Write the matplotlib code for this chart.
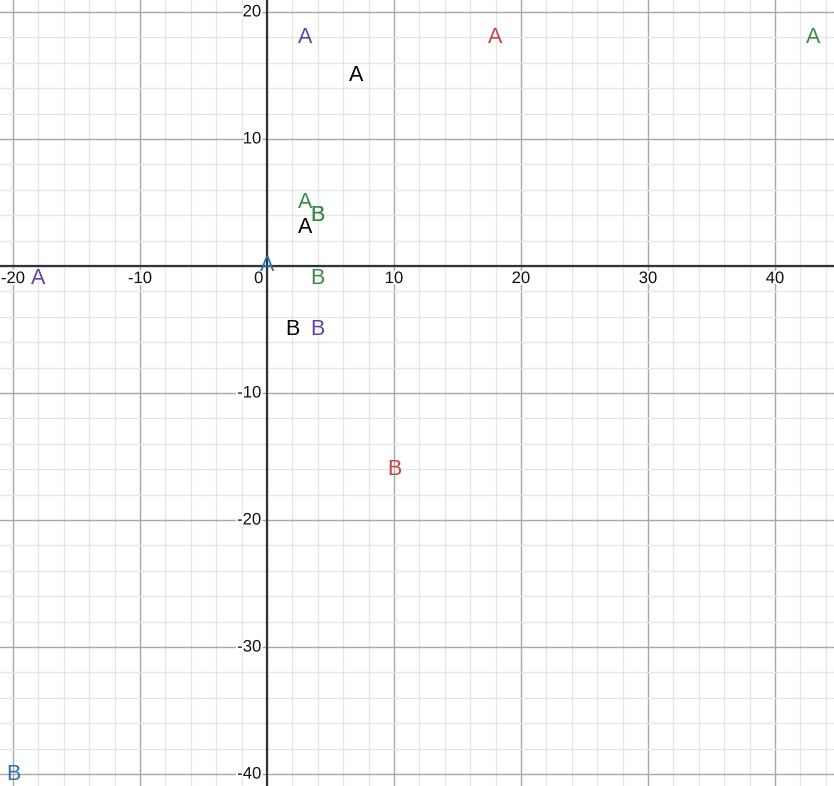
import matplotlib.pyplot as plt
import matplotlib.patheffects as pe
import numpy as np

# Point labels
labels = ["A", "A", "A", "A", "A", "A", "A", "A",
          "B", "B", "B", "B", "B", "B", "B"]
xs = [3, 18, 43, 7, 3, 3, 0, -18,
      4, 4, 2, 4, 10, -20, 4]
ys = [18, 18, 18, 15, 5, 3, 0, -1,
      4, -1, -5, -5, -16, -40, 4]
colors = ["purple", "red", "green", "black", "green", "black", "blue", "purple",
          "green", "green", "black", "purple", "red", "blue", "green"]

palette = {"red": "#c74440", "blue": "#2d70b3", "green": "#388c46",
           "purple": "#6042a6", "black": "#000000"}

x_ticks = [-20, -10, 0, 10, 20, 30, 40]
y_ticks = [20, 10, -10, -20, -30, -40]

fig = plt.figure(figsize=(8.34, 7.86), dpi=100)
ax = fig.add_axes([0, 0, 1, 1])
ax.set_xlim(-21.02, 44.65)
ax.set_ylim(-40.94, 20.94)
ax.axis("off")

# grid
for v in np.arange(-22, 46, 2):
    ax.axvline(v, color="#e6e6e6" if v % 10 else "#a8a8a8", lw=1, zorder=0)
for v in np.arange(-42, 22, 2):
    ax.axhline(v, color="#e6e6e6" if v % 10 else "#a8a8a8", lw=1, zorder=0)
ax.axhline(0, color="#333333", lw=1.6, zorder=1)
ax.axvline(0, color="#333333", lw=1.6, zorder=1)

halo = [pe.withStroke(linewidth=3, foreground="white")]
for t in x_ticks:
    xx = -0.65 if t == 0 else t
    ax.text(xx, -0.4, str(t), ha="center", va="top", fontsize=12,
            family="Liberation Sans", color="#111111", path_effects=halo, zorder=2)
for t in y_ticks:
    ax.text(-0.45, t, str(t), ha="right", va="center", fontsize=12,
            family="Liberation Sans", color="#111111", path_effects=halo, zorder=2)

for lab, x, y, c in zip(labels, xs, ys, colors):
    ax.text(x, y, lab, ha="center", va="center", fontsize=15.5,
            family="Liberation Sans", color=palette[c], zorder=3)

fig.savefig("out.png", dpi=100)
